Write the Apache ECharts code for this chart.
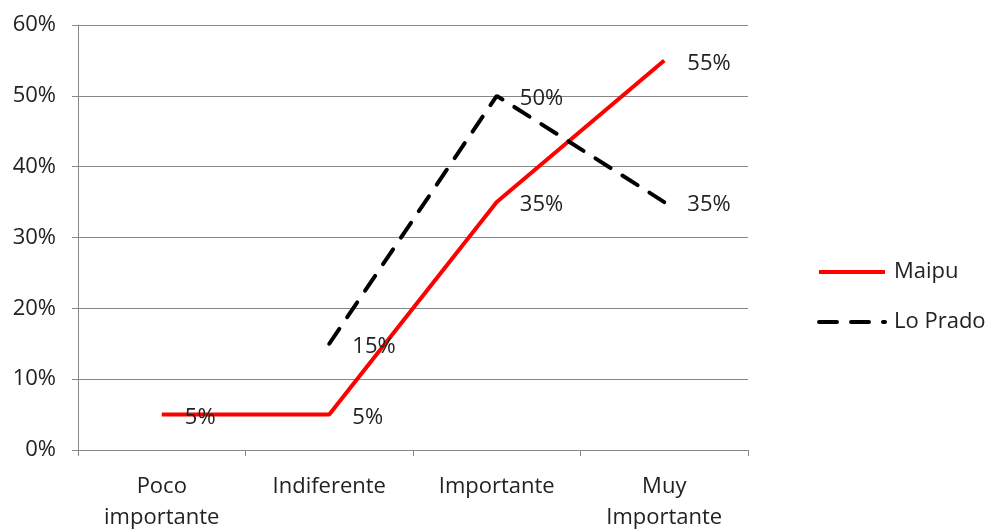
<!DOCTYPE html>
<html>
<head>
<meta charset="utf-8">
<script src="https://cdn.jsdelivr.net/npm/echarts@6/dist/echarts.min.js"></script>
<style>
  html, body { margin: 0; padding: 0; background: #fff; }
  #chart { width: 990px; height: 529px; }
</style>
</head>
<body>
<div id="chart"></div>
<script>
// categorías del eje x
var categories = ['Poco\nimportante', 'Indiferente', 'Importante', 'Muy\nImportante'];
// valores en %
var maipu = [5, 5, 35, 55];
var loPrado = [null, 15, 50, 35];
// etiquetas del eje y
var yTicks = [0, 10, 20, 30, 40, 50, 60];

var font = '"Open Sans", "DejaVu Sans", sans-serif';
var fontSize = 22;
var textColor = '#222';
var gridColor = '#888888';

var pointLabel = {
    show: true,
    position: 'right',
    distance: 23,
    offset: [0, 3],
    fontFamily: font,
    fontSize: fontSize,
    color: textColor,
    formatter: '{c}%'
};

var option = {
    animation: false,
    grid: {
        left: 78,
        right: 242,
        top: 25,
        bottom: 79,
        outerBoundsMode: 'none' // no encoger el grid por las etiquetas
    },
    legend: {
        orient: 'vertical',
        left: 812,
        top: 256,
        itemWidth: 66,
        itemHeight: 20,
        itemGap: 28,
        itemStyle: { opacity: 0 }, // sin círculo en la leyenda
        lineStyle: { width: 4 },
        textStyle: { fontFamily: font, fontSize: fontSize, color: textColor, padding: [0, 0, 0, 4] },
        data: ['Maipu', 'Lo Prado']
    },
    xAxis: {
        type: 'category',
        data: categories,
        boundaryGap: true,
        axisLine: { lineStyle: { color: gridColor, width: 1 } },
        axisTick: { show: true, length: 6, lineStyle: { color: gridColor } },
        axisLabel: {
            fontFamily: font,
            fontSize: fontSize,
            color: textColor,
            margin: 21,
            lineHeight: 31
        }
    },
    yAxis: {
        type: 'value',
        min: yTicks[0],
        max: yTicks[yTicks.length - 1],
        interval: 10,
        axisLine: { show: true, lineStyle: { color: gridColor, width: 1 } },
        axisTick: { show: true, length: 6, lineStyle: { color: gridColor } },
        splitLine: { lineStyle: { color: gridColor, width: 1 } },
        axisLabel: {
            fontFamily: font,
            fontSize: fontSize,
            color: textColor,
            margin: 22,
            formatter: '{value}%'
        }
    },
    series: [
        {
            name: 'Maipu',
            type: 'line',
            data: maipu,
            symbol: 'circle',
            symbolSize: 0.1,
            lineStyle: { color: '#ff0000', width: 4 },
            itemStyle: { color: '#ff0000' },
            label: pointLabel
        },
        {
            name: 'Lo Prado',
            type: 'line',
            data: loPrado,
            symbol: 'circle',
            symbolSize: 0.1,
            lineStyle: { color: '#000000', width: 4, type: [18, 14], cap: 'round' },
            itemStyle: { color: '#000000' },
            label: pointLabel
        }
    ]
};

var chart = echarts.init(document.getElementById('chart'));
chart.setOption(option);
</script>
</body>
</html>
